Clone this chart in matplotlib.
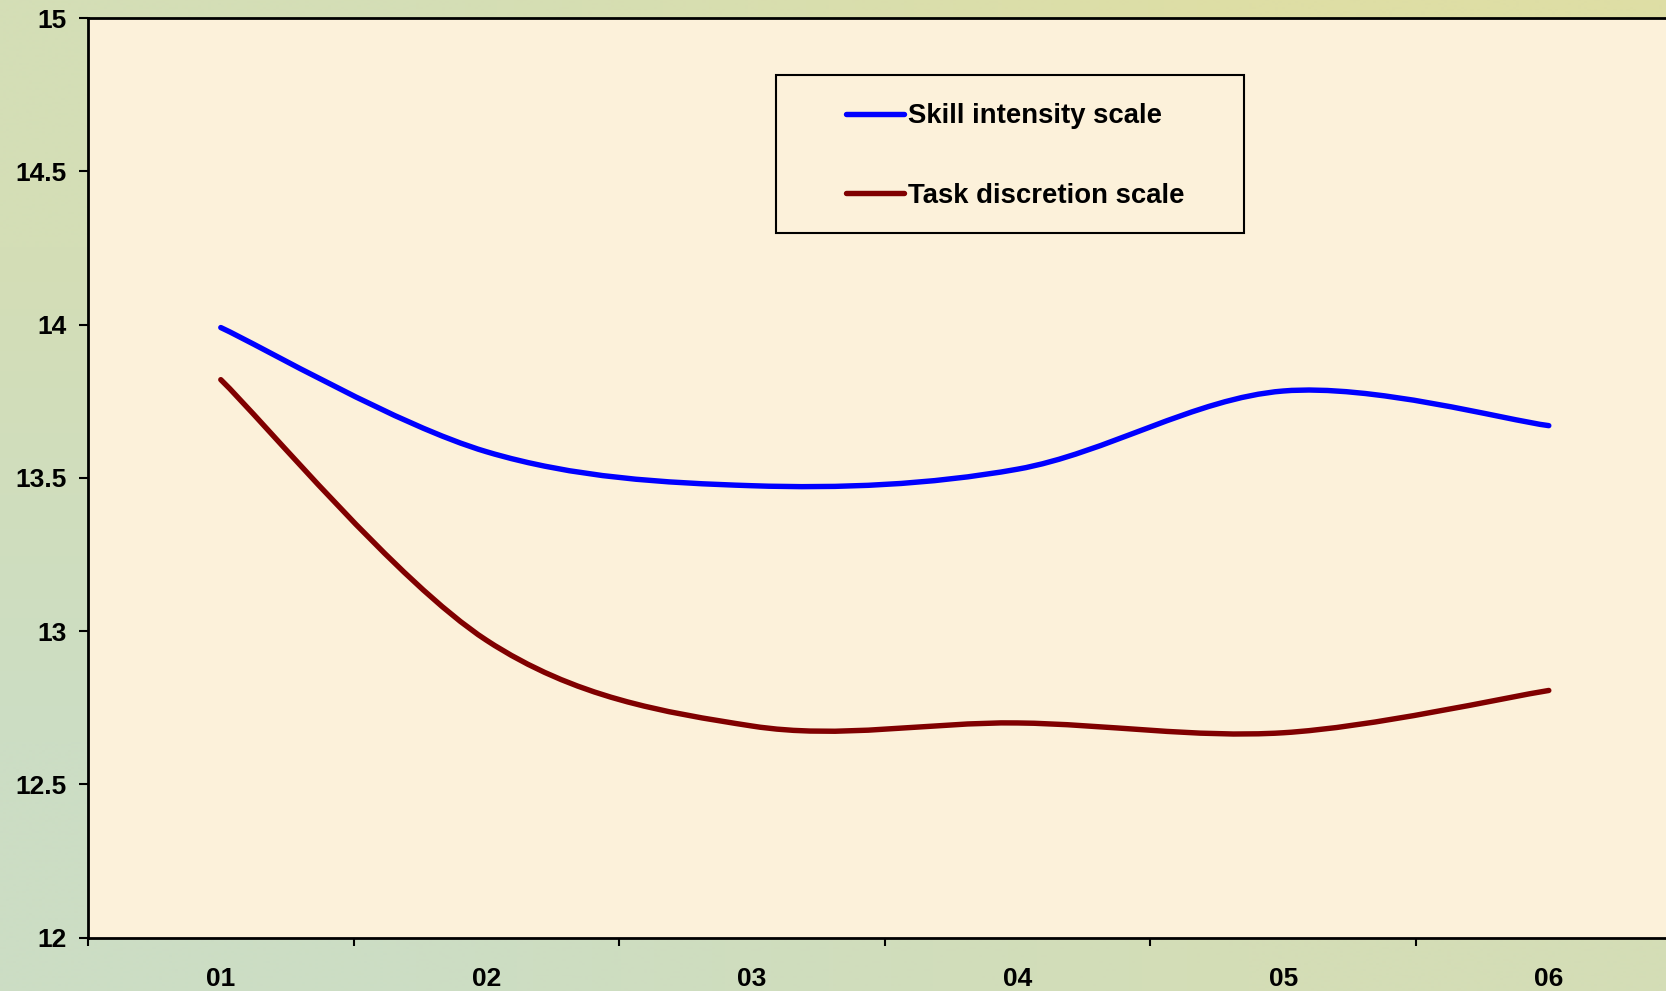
import numpy as np
import matplotlib
matplotlib.use("Agg")
import matplotlib.pyplot as plt
from matplotlib.path import Path
from matplotlib.patches import PathPatch, Rectangle
from matplotlib.lines import Line2D
from matplotlib.ticker import FixedLocator, FormatStrFormatter

plt.rcParams['font.family'] = ['Liberation Sans', 'DejaVu Sans']
plt.rcParams['font.weight'] = 'bold'

# datos
years = ["01", "02", "03", "04", "05", "06"]
skill = [13.99, 13.585, 13.474, 13.528, 13.783, 13.67]
task = [13.82, 12.97, 12.69, 12.70, 12.668, 12.806]
series_names = ["Skill intensity scale", "Task discretion scale"]
series_colors = ["#0000ff", "#800000"]


# curva suavizada tipo Excel (Bezier a partir de los puntos)
def smooth_path(xs, ys):
    P = np.column_stack([xs, ys]).astype(float)
    n = len(P)
    verts = [P[0]]
    codes = [Path.MOVETO]
    for i in range(n - 1):
        p0 = P[i - 1] if i > 0 else P[i]
        p3 = P[i + 2] if i + 2 < n else P[i + 1]
        c1 = P[i] + (P[i + 1] - p0) / 6.0
        c2 = P[i + 1] - (p3 - P[i]) / 6.0
        verts += [c1, c2, P[i + 1]]
        codes += [Path.CURVE4] * 3
    return Path(verts, codes)


W, H = 1666, 991
fig = plt.figure(figsize=(W / 100, H / 100), dpi=100)

# fondo degradado
bg = fig.add_axes([0, 0, 1, 1], zorder=-10)
grad = np.array([[[212, 222, 182], [222, 222, 165]],
                 [[204, 221, 196], [212, 221, 182]]]) / 255.0
bg.imshow(grad, aspect="auto", interpolation="bilinear", extent=[0, 1, 0, 1])
bg.axis("off")

left, right, top, bottom = 88, 88 + 6 * 265.6, 18, 937.5
ax = fig.add_axes([left / W, 1 - bottom / H, (right - left) / W, (bottom - top) / H])
ax.set_facecolor("#fcf1da")

x = np.arange(len(years))
for vals, col in zip([skill, task], series_colors):
    patch = PathPatch(smooth_path(x, vals), facecolor="none", edgecolor=col,
                      lw=3.9, capstyle="round", joinstyle="round")
    ax.add_patch(patch)

ax.set_xlim(-0.5, len(years) - 0.5)
ax.set_ylim(12, 15)
ax.yaxis.set_major_locator(FixedLocator(np.arange(12, 15.01, 0.5)))
ax.yaxis.set_major_formatter(FormatStrFormatter("%g"))

ax.xaxis.set_major_locator(FixedLocator(np.arange(-0.5, len(years), 1.0)))
ax.xaxis.set_major_formatter(plt.NullFormatter())
ax.xaxis.set_minor_locator(FixedLocator(x))
ax.set_xticklabels(years, minor=True)

ax.tick_params(axis="y", direction="out", length=6.5, width=1.5, pad=9,
               labelsize=19, colors="black")
ax.tick_params(axis="x", which="major", direction="out", length=6, width=1.5)
ax.tick_params(axis="x", which="minor", length=0, pad=21, labelsize=19)

for s in ["left", "bottom", "top"]:
    ax.spines[s].set_linewidth(2)
    ax.spines[s].set_color("black")
ax.spines["right"].set_visible(False)

# leyenda
handles = [Line2D([], [], color=c, lw=3.9, solid_capstyle="round") for c in series_colors]
fig.legend(handles, series_names, loc="center",
           bbox_to_anchor=(1015 / W, 1 - 156 / H), frameon=False,
           prop={"size": 19.8, "weight": "bold"}, handlelength=2.1,
           handletextpad=0.15, labelspacing=1.95)
fig.patches.append(Rectangle((776 / W, 1 - 233 / H), (1244 - 776) / W, (233 - 75) / H,
                             transform=fig.transFigure, fill=False,
                             edgecolor="black", lw=1.5, figure=fig))

fig.savefig("out.png", dpi=100)
